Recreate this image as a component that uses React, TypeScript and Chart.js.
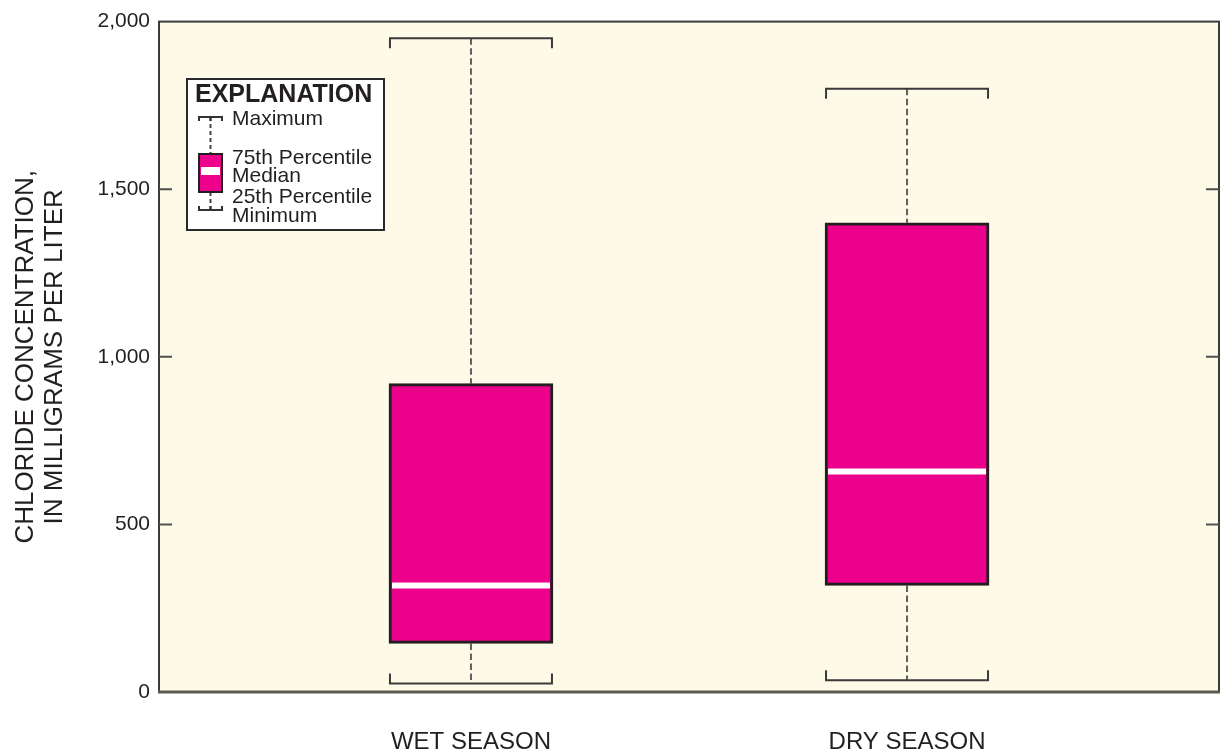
import React, { useEffect, useRef } from 'react';
import { Chart, registerables } from 'chart.js';

Chart.register(...registerables);

// ---- data ----
const categories = ['WET SEASON', 'DRY SEASON'];
const minimums = [25, 35];
const percentile25 = [145, 318];
const medians = [318, 658];
const percentile75 = [920, 1400];
const maximums = [1950, 1800];
const yTickValues = [0, 500, 1000, 1500, 2000];
const yTitleLines = ['CHLORIDE CONCENTRATION,', 'IN MILLIGRAMS PER LITER'];
const legendTitle = 'EXPLANATION';
const legendLabels = ['Maximum', '75th Percentile', 'Median', '25th Percentile', 'Minimum'];

// ---- styles ----
const FONT = '"Liberation Sans", Arial, Helvetica, sans-serif';
const MAGENTA = '#EC008C';
const CREAM = '#FEFAE8';
const DARK = '#231F20';
const BOX_WIDTH = 164;
const X_PAD = 0.7154;

const boxPlugin = {
  id: 'boxExtras',
  beforeDraw(chart: any) {
    const { ctx, chartArea: a } = chart;
    ctx.save();
    ctx.fillStyle = '#ffffff';
    ctx.fillRect(0, 0, chart.width, chart.height);
    ctx.fillStyle = CREAM;
    ctx.fillRect(a.left, a.top, a.right - a.left, a.bottom - a.top);
    ctx.restore();
  },
  beforeDatasetsDraw(chart: any) {
    const { ctx } = chart;
    const xs = chart.scales.x;
    const ys = chart.scales.y;
    ctx.save();
    categories.forEach((_, i) => {
      const xc = xs.getPixelForValue(i);
      const half = BOX_WIDTH / 2;
      const yMax = ys.getPixelForValue(maximums[i]);
      const yMin = ys.getPixelForValue(minimums[i]);
      const yQ3 = ys.getPixelForValue(percentile75[i]);
      const yQ1 = ys.getPixelForValue(percentile25[i]);
      ctx.strokeStyle = '#5f5f5f';
      ctx.lineWidth = 2;
      ctx.setLineDash([6.5, 3.5]);
      ctx.beginPath();
      ctx.moveTo(xc, yMax);
      ctx.lineTo(xc, yQ3);
      ctx.moveTo(xc, yQ1);
      ctx.lineTo(xc, yMin);
      ctx.stroke();
      ctx.setLineDash([]);
      ctx.strokeStyle = '#3a3a3a';
      ctx.lineWidth = 2;
      ctx.beginPath();
      ctx.moveTo(xc - half + 1, yMax + 10);
      ctx.lineTo(xc - half + 1, yMax);
      ctx.lineTo(xc + half - 1, yMax);
      ctx.lineTo(xc + half - 1, yMax + 10);
      ctx.moveTo(xc - half + 1, yMin - 10);
      ctx.lineTo(xc - half + 1, yMin);
      ctx.lineTo(xc + half - 1, yMin);
      ctx.lineTo(xc + half - 1, yMin - 10);
      ctx.stroke();
    });
    ctx.restore();
  },
  afterDatasetsDraw(chart: any) {
    const { ctx } = chart;
    const xs = chart.scales.x;
    const ys = chart.scales.y;
    ctx.save();
    ctx.strokeStyle = '#ffffff';
    ctx.lineWidth = 6;
    categories.forEach((_, i) => {
      const xc = xs.getPixelForValue(i);
      const half = BOX_WIDTH / 2;
      const ym = ys.getPixelForValue(medians[i]);
      ctx.beginPath();
      ctx.moveTo(xc - half + 3, ym);
      ctx.lineTo(xc + half - 3, ym);
      ctx.stroke();
    });
    ctx.restore();
  },
  afterDraw(chart: any) {
    const { ctx, chartArea: a } = chart;
    const ys = chart.scales.y;
    ctx.save();
    ctx.strokeStyle = '#3c3c3c';
    ctx.lineWidth = 2;
    ctx.strokeRect(a.left, a.top, a.right - a.left, a.bottom - a.top);
    ctx.strokeStyle = '#5a5a50';
    ctx.lineWidth = 3;
    ctx.beginPath();
    ctx.moveTo(a.left - 1, a.bottom);
    ctx.lineTo(a.right + 1, a.bottom);
    ctx.stroke();
    ctx.strokeStyle = '#505050';
    ctx.lineWidth = 2;
    ctx.beginPath();
    yTickValues.forEach((v) => {
      if (v === yTickValues[0] || v === yTickValues[yTickValues.length - 1]) return;
      const y = ys.getPixelForValue(v);
      ctx.moveTo(a.left, y);
      ctx.lineTo(a.left + 13, y);
      ctx.moveTo(a.right - 13, y);
      ctx.lineTo(a.right, y);
    });
    ctx.stroke();

    const yc = (a.top + a.bottom) / 2;
    ctx.fillStyle = DARK;
    ctx.font = `26px ${FONT}`;
    ctx.textAlign = 'center';
    ctx.textBaseline = 'alphabetic';
    const baseXs = [33, 62];
    yTitleLines.forEach((line, i) => {
      ctx.save();
      ctx.translate(baseXs[i], yc);
      ctx.rotate(-Math.PI / 2);
      ctx.fillText(line, 0, 0);
      ctx.restore();
    });

    const lx = 187, ly = 79, lw = 197, lh = 151;
    ctx.fillStyle = '#ffffff';
    ctx.fillRect(lx, ly, lw, lh);
    ctx.strokeStyle = '#2a2a2a';
    ctx.lineWidth = 2;
    ctx.strokeRect(lx, ly, lw, lh);
    ctx.fillStyle = DARK;
    ctx.textAlign = 'left';
    ctx.font = `bold 25px ${FONT}`;
    ctx.fillText(legendTitle, 195, 102);
    ctx.font = `21px ${FONT}`;
    const baselines = [125, 164, 182, 203, 222];
    legendLabels.forEach((t, i) => ctx.fillText(t, 232, baselines[i]));
    const sx = 210.5, bl = 199, br = 222;
    const capTop = 117, boxTop = 154, boxBot = 192, capBot = 210;
    ctx.strokeStyle = '#444444';
    ctx.lineWidth = 2;
    ctx.setLineDash([4, 3]);
    ctx.beginPath();
    ctx.moveTo(sx, capTop);
    ctx.lineTo(sx, boxTop);
    ctx.moveTo(sx, boxBot);
    ctx.lineTo(sx, capBot);
    ctx.stroke();
    ctx.setLineDash([]);
    ctx.strokeStyle = '#333333';
    ctx.lineWidth = 2;
    ctx.beginPath();
    ctx.moveTo(bl, capTop + 4);
    ctx.lineTo(bl, capTop);
    ctx.lineTo(br, capTop);
    ctx.lineTo(br, capTop + 4);
    ctx.moveTo(sx, capTop);
    ctx.lineTo(sx, capTop + 4);
    ctx.moveTo(bl, capBot - 4);
    ctx.lineTo(bl, capBot);
    ctx.lineTo(br, capBot);
    ctx.lineTo(br, capBot - 4);
    ctx.moveTo(sx, capBot);
    ctx.lineTo(sx, capBot - 4);
    ctx.stroke();
    ctx.fillStyle = MAGENTA;
    ctx.fillRect(bl, boxTop, br - bl, boxBot - boxTop);
    ctx.fillStyle = '#ffffff';
    ctx.fillRect(bl + 2, 167, br - bl - 4, 8);
    ctx.strokeStyle = DARK;
    ctx.lineWidth = 2;
    ctx.strokeRect(bl, boxTop, br - bl, boxBot - boxTop);
    ctx.restore();
  },
};

export default function App() {
  const canvasRef = useRef<HTMLCanvasElement | null>(null);

  useEffect(() => {
    document.body.style.margin = '0';
    const canvas = canvasRef.current;
    if (!canvas) return;
    const chart = new Chart(canvas, {
      type: 'bar',
      data: {
        datasets: [
          {
            data: categories.map((_, i) => ({ x: i, y: [percentile25[i], percentile75[i]] })) as any,
            backgroundColor: MAGENTA,
            borderColor: DARK,
            borderWidth: 3,
            borderSkipped: false,
            barThickness: BOX_WIDTH,
          },
        ],
      },
      options: {
        animation: false,
        responsive: false,
        maintainAspectRatio: false,
        layout: { padding: { left: 0, right: 2, top: 20, bottom: 0 } },
        plugins: { legend: { display: false }, tooltip: { enabled: false } },
        scales: {
          x: {
            type: 'linear',
            offset: false,
            min: -X_PAD,
            max: 1 + X_PAD,
            grid: { display: false, drawTicks: false, offset: false },
            border: { display: false },
            afterBuildTicks: (s: any) => {
              s.ticks = categories.map((_, i) => ({ value: i }));
            },
            afterFit: (s: any) => {
              s.height = 59;
            },
            ticks: {
              autoSkip: false,
              maxRotation: 0,
              padding: 36,
              color: DARK,
              font: { family: FONT, size: 24 },
              callback: (v: any) => categories[Math.round(Number(v))] ?? '',
            },
          },
          y: {
            min: 0,
            max: 2000,
            grid: { display: false, drawTicks: false },
            border: { display: false },
            afterBuildTicks: (s: any) => {
              s.ticks = yTickValues.map((v) => ({ value: v }));
            },
            afterFit: (s: any) => {
              s.width = 159;
            },
            ticks: {
              padding: 9,
              color: DARK,
              font: { family: FONT, size: 21 },
              callback: (v: any) => Number(v).toLocaleString('en-US'),
            },
          },
        },
      },
      plugins: [boxPlugin],
    });
    return () => chart.destroy();
  }, []);

  return (
    <div style={{ width: 1221, height: 751, position: 'relative' }}>
      <canvas ref={canvasRef} width={1221} height={751} style={{ display: 'block' }} />
    </div>
  );
}
